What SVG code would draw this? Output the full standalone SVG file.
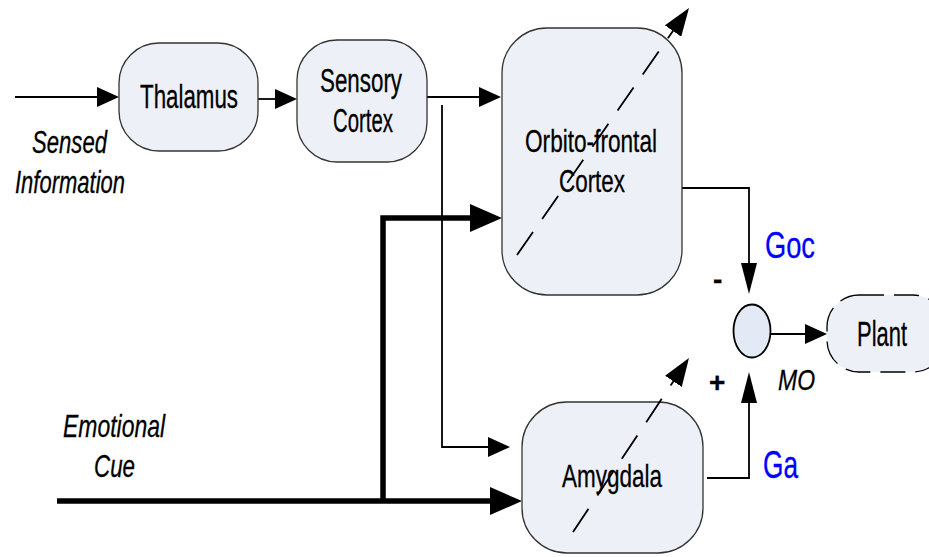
<svg xmlns="http://www.w3.org/2000/svg" width="929" height="557" viewBox="0 0 929 557">
<defs>
<marker id="aThin" markerUnits="userSpaceOnUse" markerWidth="22" markerHeight="20" refX="11" refY="10" orient="auto"><path d="M0,0 L22,10 L0,20 z" fill="#000"/></marker>
<marker id="aThick" markerUnits="userSpaceOnUse" markerWidth="32" markerHeight="28" refX="16" refY="14" orient="auto"><path d="M0,0 L32,14 L0,28 z" fill="#000"/></marker>
<marker id="aVert" markerUnits="userSpaceOnUse" markerWidth="31" markerHeight="16" refX="15" refY="8" orient="auto"><path d="M0,0 L31,8 L0,16 z" fill="#000"/></marker>
<marker id="aDiag" markerUnits="userSpaceOnUse" markerWidth="28" markerHeight="20" refX="14" refY="10" orient="auto"><path d="M0,0 L28,10 L0,20 z" fill="#000"/></marker>
</defs>
<style>
.box{fill:#EDF0F6;stroke:#333;stroke-width:1.3}
.lbl{font-family:"Liberation Sans",Arial,sans-serif;fill:#000;stroke:#000;stroke-width:0.3}
.it{font-family:"Liberation Sans",Arial,sans-serif;font-style:italic;fill:#000;stroke:#000;stroke-width:0.3}
.blue{font-family:"Liberation Sans",Arial,sans-serif;fill:#0000FF;stroke:#0000FF;stroke-width:0.3}
.thin{fill:none;stroke:#000;stroke-width:1.8}
.thick{fill:none;stroke:#000;stroke-width:5.5}
.dash{fill:none;stroke:#000;stroke-width:1.8;stroke-dasharray:28 16}
</style>
<rect width="929" height="557" fill="#fff"/>
<g id="connectors">
<line class="thin" x1="15" y1="97" x2="108" y2="97" marker-end="url(#aThin)"/>
<line class="thin" x1="258" y1="99" x2="286" y2="99" marker-end="url(#aThin)"/>
<line class="thin" x1="418" y1="97" x2="490" y2="97" marker-end="url(#aThin)"/>
<polyline class="thin" points="442,105 442,447 499,447" marker-end="url(#aThin)"/>
<line class="thick" x1="57" y1="501" x2="506" y2="501" marker-end="url(#aThick)"/>
<polyline class="thick" points="383,501 383,218 486,218" marker-end="url(#aThick)"/>
<polyline class="thin" points="682,188 749,188 749,278" marker-end="url(#aVert)"/>
<polyline class="thin" points="707,478 749,478 749,388" marker-end="url(#aVert)"/>
<line class="thin" x1="771" y1="334" x2="816" y2="334" marker-end="url(#aThin)"/>
</g>
<g id="thalamus"><rect class="box" x="119" y="43" width="139" height="108" rx="40"/><text class="lbl" x="140" y="108" font-size="34" textLength="98" lengthAdjust="spacingAndGlyphs">Thalamus</text></g>
<g id="sensory"><rect class="box" x="297" y="40" width="130" height="122" rx="40"/><text class="lbl" x="320" y="92" font-size="34" textLength="82" lengthAdjust="spacingAndGlyphs">Sensory</text><text class="lbl" x="333" y="132" font-size="34" textLength="60" lengthAdjust="spacingAndGlyphs">Cortex</text></g>
<g id="ofc"><rect class="box" x="502" y="28" width="180" height="267" rx="45"/><text class="lbl" x="525" y="152" font-size="32" textLength="132" lengthAdjust="spacingAndGlyphs">Orbito-frontal</text><text class="lbl" x="559" y="192" font-size="32" textLength="66" lengthAdjust="spacingAndGlyphs">Cortex</text><line class="dash" x1="517" y1="255" x2="681" y2="19.5" marker-end="url(#aDiag)"/></g>
<g id="amygdala"><rect class="box" x="522" y="402" width="181" height="151" rx="45"/><text class="lbl" x="562" y="487" font-size="32" textLength="100" lengthAdjust="spacingAndGlyphs">Amygdala</text><line class="dash" x1="573" y1="532" x2="681.2" y2="369.7" marker-end="url(#aDiag)"/></g>
<g id="sum"><ellipse cx="752" cy="331" rx="18.5" ry="26.5" fill="#E4EAF5" stroke="#000" stroke-width="1.8"/><text class="lbl" x="713" y="289" font-size="28" font-weight="bold">-</text><text class="lbl" x="709" y="392" font-size="28" font-weight="bold">+</text></g>
<g id="plant"><rect x="827" y="295" width="118" height="77" rx="32" fill="#EDF0F6" stroke="#000" stroke-width="1.3" stroke-dasharray="25 10"/><text class="lbl" x="857" y="346" font-size="35" textLength="50" lengthAdjust="spacingAndGlyphs">Plant</text></g>
<g id="labels">
<text class="it" x="32" y="153" font-size="31" textLength="75" lengthAdjust="spacingAndGlyphs">Sensed</text>
<text class="it" x="15" y="193" font-size="31" textLength="110" lengthAdjust="spacingAndGlyphs">Information</text>
<text class="it" x="63" y="437" font-size="32" textLength="102" lengthAdjust="spacingAndGlyphs">Emotional</text>
<text class="it" x="94" y="477" font-size="32" textLength="41" lengthAdjust="spacingAndGlyphs">Cue</text>
<text class="blue" x="765" y="258" font-size="37" textLength="50" lengthAdjust="spacingAndGlyphs">Goc</text>
<text class="blue" x="763" y="478" font-size="38" textLength="35" lengthAdjust="spacingAndGlyphs">Ga</text>
<text class="it" x="778" y="390" font-size="29" textLength="37" lengthAdjust="spacingAndGlyphs">MO</text>
</g>
</svg>
